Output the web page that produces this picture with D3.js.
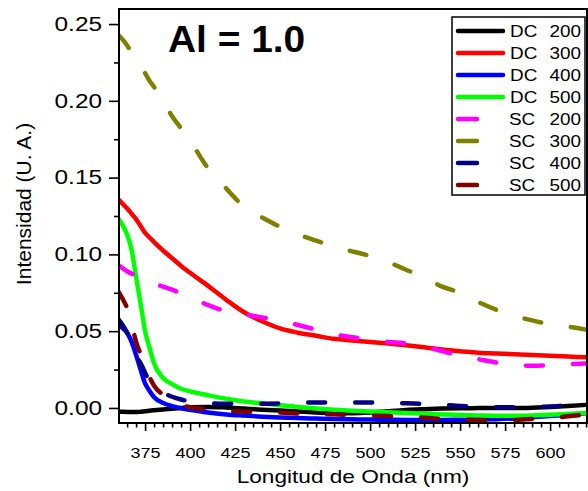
<!DOCTYPE html>
<html>
<head>
<meta charset="utf-8">
<script src="https://cdn.jsdelivr.net/npm/d3@7"></script>
<style>
    body { margin: 0; background: #fff; }
    svg { display: block; font-family: "Liberation Sans", Arial, sans-serif; }
</style>
</head>
<body>
<svg id="chart" width="588" height="491"></svg>
<script>
// Donnees
const wavelength = [360, 362.5, 365, 367.5, 370, 372.5, 375, 377.5, 380, 385, 390, 395, 400, 410, 420, 430, 440, 450, 460, 470, 480, 490, 500, 510, 520, 530, 540, 550, 560, 570, 580, 590, 600, 610, 620];

const dc200 = [-0.0024, -0.0025, -0.0026, -0.0027, -0.0027, -0.0025, -0.0022, -0.0018, -0.0015, -0.001, -0.0005, 0.0, 0.0005, 0.0007, 0.0003, -0.0004, -0.0011, -0.0017, -0.0023, -0.0029, -0.0033, -0.0034, -0.003, -0.0021, -0.0013, -0.0008, -0.0004, -0.0002, -0.0001, 0.0, 0.0, 0.0002, 0.0006, 0.0012, 0.002];
const dc300 = [0.136, 0.133, 0.130, 0.1265, 0.123, 0.1185, 0.114, 0.111, 0.108, 0.1025, 0.0975, 0.0925, 0.088, 0.0795, 0.0705, 0.0623, 0.0565, 0.0518, 0.049, 0.047, 0.045, 0.044, 0.043, 0.042, 0.0408, 0.0395, 0.038, 0.037, 0.036, 0.0355, 0.035, 0.0345, 0.034, 0.0335, 0.033];
const dc400 = [0.054, 0.052, 0.049, 0.043, 0.0345, 0.025, 0.016, 0.011, 0.007, 0.0032, 0.0012, -0.0002, -0.0012, -0.003, -0.0042, -0.005, -0.0057, -0.0062, -0.0066, -0.0069, -0.0072, -0.0074, -0.0076, -0.0077, -0.0078, -0.0078, -0.0078, -0.0077, -0.0076, -0.0073, -0.0068, -0.006, -0.0052, -0.0045, -0.0035];
const dc500 = [0.1235, 0.119, 0.113, 0.103, 0.085, 0.068, 0.050, 0.039, 0.029, 0.0195, 0.0155, 0.0125, 0.0108, 0.0083, 0.006, 0.0042, 0.003, 0.0018, 0.0006, -0.0004, -0.0012, -0.0018, -0.0023, -0.0028, -0.0033, -0.0038, -0.0042, -0.0046, -0.0049, -0.0051, -0.0051, -0.0049, -0.0045, -0.004, -0.0033];
const sc200 = [0.093, 0.091, 0.089, 0.0875, 0.086, 0.0845, 0.083, 0.082, 0.081, 0.079, 0.077, 0.0745, 0.072, 0.067, 0.063, 0.061, 0.059, 0.057, 0.054, 0.051, 0.048, 0.046, 0.0445, 0.043, 0.042, 0.040, 0.037, 0.034, 0.0318, 0.0296, 0.028, 0.0275, 0.0278, 0.0285, 0.029];
const sc300 = [0.243, 0.240, 0.236, 0.2315, 0.227, 0.2225, 0.218, 0.213, 0.209, 0.200, 0.190, 0.182, 0.174, 0.156, 0.143, 0.131, 0.124, 0.118, 0.113, 0.109, 0.105, 0.102, 0.099, 0.095, 0.090, 0.085, 0.079, 0.075, 0.069, 0.064, 0.060, 0.057, 0.0545, 0.053, 0.051];
const sc400 = [0.058, 0.054, 0.049, 0.041, 0.034, 0.029, 0.023, 0.017, 0.0135, 0.0098, 0.0073, 0.0055, 0.0042, 0.003, 0.0027, 0.003, 0.0028, 0.003, 0.0034, 0.0035, 0.0035, 0.0035, 0.0035, 0.0034, 0.003, 0.0027, 0.0021, 0.0013, 0.0008, 0.0005, 0.0005, 0.0006, 0.0009, 0.0017, 0.002];
const sc500 = [0.076, 0.071, 0.065, 0.055, 0.043, 0.035, 0.027, 0.020, 0.0145, 0.0085, 0.004, 0.0018, 0.0005, -0.001, -0.002, -0.0024, -0.0026, -0.003, -0.0037, -0.004, -0.0041, -0.0046, -0.005, -0.0053, -0.0058, -0.0064, -0.0071, -0.0076, -0.0078, -0.0083, -0.0078, -0.0072, -0.0068, -0.0054, -0.0044];

const seriesNames = ["DC", "DC", "DC", "DC", "SC", "SC", "SC", "SC"];
const seriesTemps = ["200", "300", "400", "500", "200", "300", "400", "500"];
const seriesValues = [dc200, dc300, dc400, dc500, sc200, sc300, sc400, sc500];
const seriesColors = ["#000000", "#ff0000", "#0000ff", "#00ff00", "#ff00ff", "#808000", "#000080", "#800000"];

const yMajorTicks = [0, 0.05, 0.10, 0.15, 0.20, 0.25];
const yMinorTicks = [0.025, 0.075, 0.125, 0.175, 0.225];
const xMajorTicks = [375, 400, 425, 450, 475, 500, 525, 550, 575, 600];
const xMinorTicks = d3.range(365, 621, 5).filter(function(v) { return v % 25 !== 0; });

const plot = { left: 119, right: 587, top: 9, bottom: 423 };
const svg = d3.select("#chart");

const x = d3.scaleLinear().domain([360.5, 620.5]).range([plot.left, plot.right]);
const y = d3.scaleLinear().domain([-0.0098, 0.2598]).range([plot.bottom, plot.top]);

// etire le texte horizontalement comme dans l'original
function stretchText(selection, factor) {
    selection.each(function() {
        const w = this.getComputedTextLength();
        d3.select(this).attr("textLength", w * factor).attr("lengthAdjust", "spacingAndGlyphs");
    });
}

svg.append("clipPath").attr("id", "plot-clip")
    .append("rect")
    .attr("x", plot.left).attr("y", plot.top)
    .attr("width", plot.right - plot.left).attr("height", plot.bottom - plot.top);

// Courbes
const line = d3.line()
    .x(function(d) { return x(d[0]); })
    .y(function(d) { return y(d[1]); })
    .curve(d3.curveMonotoneX);

const curves = svg.append("g").attr("clip-path", "url(#plot-clip)");
seriesValues.forEach(function(values, i) {
    const points = wavelength.map(function(w, k) { return [w, values[k]]; });
    curves.append("path")
        .attr("d", line(points))
        .attr("fill", "none")
        .attr("stroke", seriesColors[i])
        .attr("stroke-width", 4.5)
        .attr("stroke-linecap", seriesNames[i] === "SC" ? "round" : "butt")
        .attr("stroke-dasharray", seriesNames[i] === "SC" ? "17,30" : null);
});

// Axes
const yMajor = svg.append("g")
    .attr("transform", "translate(" + plot.left + ",0)")
    .call(d3.axisLeft(y).tickValues(yMajorTicks).tickFormat(d3.format(".2f")).tickSize(10).tickPadding(7));
svg.append("g")
    .attr("transform", "translate(" + plot.left + ",0)")
    .call(d3.axisLeft(y).tickValues(yMinorTicks).tickFormat("").tickSize(5));

const xMajor = svg.append("g")
    .attr("transform", "translate(0," + plot.bottom + ")")
    .call(d3.axisBottom(x).tickValues(xMajorTicks).tickSize(8).tickPadding(16));
svg.append("g")
    .attr("transform", "translate(0," + plot.bottom + ")")
    .call(d3.axisBottom(x).tickValues(xMinorTicks).tickFormat("").tickSize(4.5));

svg.selectAll(".domain").remove();
svg.selectAll(".tick line").attr("stroke", "#000").attr("stroke-width", 1.6);

yMajor.selectAll("text")
    .attr("font-size", 19.5)
    .attr("font-family", "Liberation Sans, Arial, sans-serif")
    .attr("fill", "#000")
    .call(stretchText, 1.25);

xMajor.selectAll("text")
    .attr("font-size", 15)
    .attr("font-family", "Liberation Sans, Arial, sans-serif")
    .attr("fill", "#000")
    .call(stretchText, 1.2);

svg.append("rect")
    .attr("x", plot.left).attr("y", plot.top)
    .attr("width", plot.right - plot.left).attr("height", plot.bottom - plot.top)
    .attr("fill", "none")
    .attr("stroke", "#000")
    .attr("stroke-width", 2);

// Titres
svg.append("text")
    .attr("x", 168)
    .attr("y", 52)
    .attr("font-size", 36)
    .attr("font-weight", "bold")
    .text("Al = 1.0")
    .call(stretchText, 1.08);

svg.append("text")
    .attr("x", (plot.left + plot.right) / 2)
    .attr("y", 483)
    .attr("text-anchor", "middle")
    .attr("font-size", 19)
    .text("Longitud de Onda (nm)")
    .call(stretchText, 1.19);

svg.append("text")
    .attr("transform", "translate(31,204) rotate(-90)")
    .attr("text-anchor", "middle")
    .attr("font-size", 21)
    .text("Intensidad (U. A.)");

// Legende
const legend = svg.append("g");
legend.append("rect")
    .attr("x", 452).attr("y", 17)
    .attr("width", 133).attr("height", 178)
    .attr("fill", "#fff")
    .attr("stroke", "#000")
    .attr("stroke-width", 1.5);

seriesNames.forEach(function(name, i) {
    const rowY = 31 + i * 22;
    const isDashed = name === "SC";
    legend.append("line")
        .attr("x1", 458).attr("x2", isDashed ? 477 : 503)
        .attr("y1", rowY).attr("y2", rowY)
        .attr("stroke", seriesColors[i])
        .attr("stroke-width", 4.5)
        .attr("stroke-linecap", "round");
    legend.append("text")
        .attr("x", isDashed ? 509 : 510)
        .attr("y", rowY + 6)
        .attr("font-size", 16)
        .text(name)
        .call(stretchText, 1.18);
    legend.append("text")
        .attr("x", 581)
        .attr("y", rowY + 6)
        .attr("text-anchor", "end")
        .attr("font-size", 16)
        .text(seriesTemps[i])
        .call(stretchText, 1.18);
});
</script>
</body>
</html>
